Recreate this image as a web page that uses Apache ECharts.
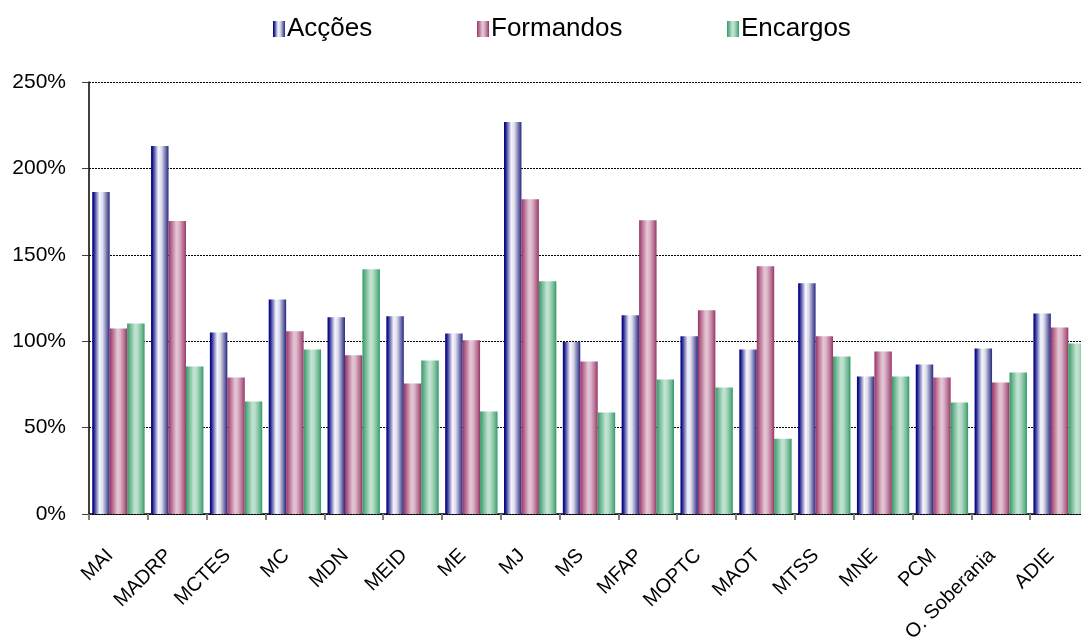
<!DOCTYPE html>
<html>
<head>
<meta charset="utf-8">
<title>Acções, Formandos e Encargos por Ministério</title>
<script src="https://cdn.jsdelivr.net/npm/echarts@6/dist/echarts.min.js"></script>
<style>
  html, body { margin: 0; padding: 0; background: #ffffff; }
  #chart { width: 1081px; height: 637px; }
</style>
</head>
<body>
<div id="chart"></div>
<script>
// Organismos (eixo das categorias)
const categories = ['MAI', 'MADRP', 'MCTES', 'MC', 'MDN', 'MEID', 'ME', 'MJ', 'MS', 'MFAP',
  'MOPTC', 'MAOT', 'MTSS', 'MNE', 'PCM', 'O. Soberania', 'ADIE'];

// Valores em percentagem
const accoes = [186.3, 212.9, 105.1, 124.2, 113.8, 114.4, 104.5, 226.9, 99.5, 115.0,
  102.8, 95.2, 133.5, 79.6, 86.5, 95.8, 116.1];
const formandos = [107.4, 169.5, 79.0, 105.7, 91.8, 75.5, 100.5, 182.2, 88.3, 170.0,
  117.9, 143.4, 102.8, 94.1, 79.0, 76.1, 108.0];
const encargos = [110.3, 85.4, 65.1, 95.2, 141.6, 88.9, 59.3, 134.7, 58.7, 77.8,
  73.2, 43.6, 91.2, 79.6, 64.5, 81.9, 98.7];

const seriesNames = ['Acções', 'Formandos', 'Encargos'];

// Escala do eixo vertical
const yMin = 0, yMax = 250, yStep = 50;

// Preenchimentos em degradê horizontal (tipo cilindro)
function grad(stops) {
  return new echarts.graphic.LinearGradient(0, 0, 1, 0,
    stops.map(([offset, color]) => ({ offset, color })));
}
const fillAccoes = grad([[0, '#000080'], [0.08, '#15158a'], [0.42, '#f6f6fb'], [0.6, '#dcdcec'],
  [0.85, '#6c6ca8'], [1, '#262683']]);
const fillFormandos = grad([[0, '#993366'], [0.15, '#b4668c'], [0.45, '#e4c8d6'], [0.6, '#dcb6c9'],
  [0.85, '#b56d90'], [1, '#993366']]);
const fillEncargos = grad([[0, '#339966'], [0.15, '#66b38b'], [0.45, '#c4e4d3'], [0.6, '#b7dcc8'],
  [0.85, '#6db892'], [1, '#339966']]);

const fontFamily = '"Liberation Sans", Arial, sans-serif';

const chart = echarts.init(document.getElementById('chart'), null, { renderer: 'canvas' });

function legendAt(name, left) {
  return {
    data: [name],
    left: left,
    top: 11,
    itemWidth: 12,
    itemHeight: 16,
    itemGap: 0,
    selectedMode: false,
    icon: 'rect',
    textStyle: { fontFamily, fontSize: 26, color: '#000', padding: [0, 0, 0, -3] }
  };
}

chart.setOption({
  animation: false,
  backgroundColor: '#ffffff',
  legend: [
    legendAt(seriesNames[0], 268),
    legendAt(seriesNames[1], 472),
    legendAt(seriesNames[2], 722)
  ],
  grid: {
    left: 89, top: 82, width: 1000, height: 432,
    containLabel: false,
    outerBoundsMode: 'none'
  },
  xAxis: {
    type: 'category',
    data: categories,
    axisLine: { lineStyle: { color: '#000', width: 1.5 } },
    axisTick: { show: true, length: 6, lineStyle: { color: '#808080', width: 2 } },
    axisLabel: {
      interval: 0,
      rotate: 45,
      margin: 30,
      padding: [0, 12, 0, 0],
      fontFamily,
      fontSize: 20,
      color: '#000'
    },
    splitLine: { show: false }
  },
  yAxis: {
    type: 'value',
    min: yMin,
    max: yMax,
    interval: yStep,
    axisLine: { show: true, lineStyle: { color: '#000', width: 1.5 } },
    axisTick: { show: true, length: 7, lineStyle: { color: '#404040' } },
    axisLabel: {
      formatter: '{value}%',
      margin: 23,
      fontFamily,
      fontSize: 21,
      color: '#000'
    },
    splitLine: { show: true, lineStyle: { color: '#000', type: [2, 1], width: 1 } }
  },
  series: [
    { name: seriesNames[0], type: 'bar', data: accoes, barGap: '0%', barCategoryGap: '11%',
      itemStyle: { color: fillAccoes } },
    { name: seriesNames[1], type: 'bar', data: formandos, barGap: '0%', barCategoryGap: '11%',
      itemStyle: { color: fillFormandos } },
    { name: seriesNames[2], type: 'bar', data: encargos, barGap: '0%', barCategoryGap: '11%',
      itemStyle: { color: fillEncargos } }
  ]
});
</script>
</body>
</html>
